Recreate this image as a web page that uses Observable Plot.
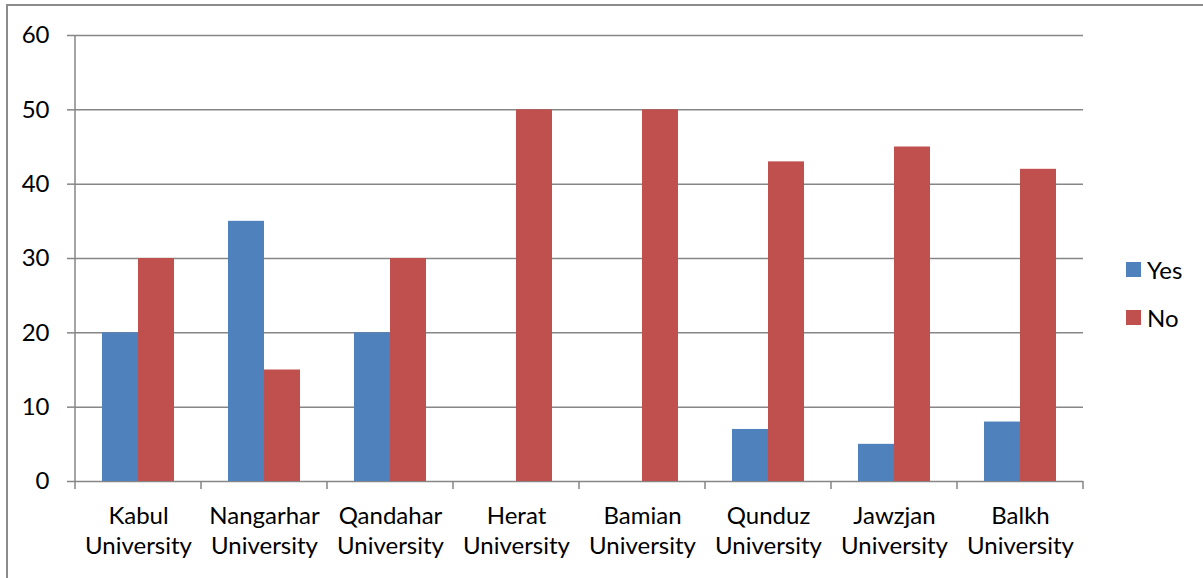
<!DOCTYPE html>
<html>
<head>
<meta charset="utf-8">
<script src="https://cdn.jsdelivr.net/npm/d3@7"></script>
<script src="https://cdn.jsdelivr.net/npm/@observablehq/plot@0.6"></script>
<style>
  html, body { margin: 0; padding: 0; background: #fff; }
  #wrap { position: relative; width: 1203px; height: 578px; overflow: hidden; font-family: Lato, "Noto Sans", sans-serif; }
  #frame { position: absolute; left: 6px; top: 4px; width: 1300px; height: 700px; border-left: 2px solid #8c8c8c; border-top: 2px solid #8c8c8c; box-sizing: border-box; }
  #chart { position: absolute; left: 0; top: 0; }
  #legend { position: absolute; left: 1126px; top: 255px; font-size: 24px; color: #000; }
  .item { display: flex; align-items: center; height: 28px; margin-bottom: 20px; }
  .sw { width: 15px; height: 15px; margin-right: 6px; }
</style>
</head>
<body>
<div id="wrap">
  <div id="frame"></div>
  <div id="chart"></div>
  <div id="legend"></div>
</div>
<script>
const categories = ["Kabul University", "Nangarhar University", "Qandahar University", "Herat University", "Bamian University", "Qunduz University", "Jawzjan University", "Balkh University"];
const series = ["Yes", "No"];
const yesValues = [20, 35, 20, 0, 0, 7, 5, 8];
const noValues = [30, 15, 30, 50, 50, 43, 45, 42];
const colors = ["#4F81BD", "#C0504D"];
const yTicks = [0, 10, 20, 30, 40, 50, 60];

const data = [];
categories.forEach((c, i) => {
  data.push({category: c, series: "Yes", value: yesValues[i]});
  data.push({category: c, series: "No", value: noValues[i]});
});

const gray = "#868686";
const plot = Plot.plot({
  width: 1203,
  height: 578,
  marginLeft: 75,
  marginRight: 120,
  marginTop: 35,
  marginBottom: 97,
  style: {fontFamily: "Lato, 'Noto Sans', sans-serif", fontSize: "24px", color: "#000", background: "transparent"},
  fx: {domain: categories, padding: 0, axis: null},
  x: {domain: series, paddingInner: 0, paddingOuter: 0.75, axis: null},
  y: {domain: [0, 60], axis: null},
  color: {domain: series, range: colors},
  marks: [
    Plot.ruleY(yTicks, {y: d => d, stroke: gray, strokeWidth: 1.5, strokeOpacity: 1}),
    Plot.barY(data, {fx: "category", x: "series", y: "value", fill: "series"}),
    Plot.axisY({ticks: yTicks, tickSize: 8, tickPadding: 18, stroke: gray, strokeWidth: 1.5, strokeOpacity: 1, fill: "#000", fontSize: 24, label: null}),
    Plot.axisFx({anchor: "bottom", tickSize: 0, tickPadding: 21, fontSize: 24, fill: "#000", lineHeight: 1.25, label: null,
      tickFormat: d => d.replace(" ", "\n")})
  ]
});
document.getElementById("chart").appendChild(plot);

// Excel-style axis line and category boundary tick marks, from Plot's scales
const fx = plot.scale("fx");
const y = plot.scale("y");
const svg = d3.select(plot);
const y0 = y.apply(0), y60 = y.apply(60);
const bounds = categories.map(c => fx.apply(c));
bounds.push(fx.apply(categories[categories.length - 1]) + fx.bandwidth);
const g = svg.append("g").attr("stroke", gray).attr("stroke-width", 1.5);
g.append("line").attr("x1", bounds[0]).attr("x2", bounds[0]).attr("y1", y60).attr("y2", y0);
bounds.forEach(b => {
  g.append("line").attr("x1", b).attr("x2", b).attr("y1", y0).attr("y2", y0 + 8);
});

// legend
const legend = document.getElementById("legend");
series.forEach((s, i) => {
  const item = document.createElement("div");
  item.className = "item";
  const sw = document.createElement("div");
  sw.className = "sw";
  sw.style.background = colors[i];
  const t = document.createElement("span");
  t.textContent = s;
  item.appendChild(sw);
  item.appendChild(t);
  legend.appendChild(item);
});
</script>
</body>
</html>
